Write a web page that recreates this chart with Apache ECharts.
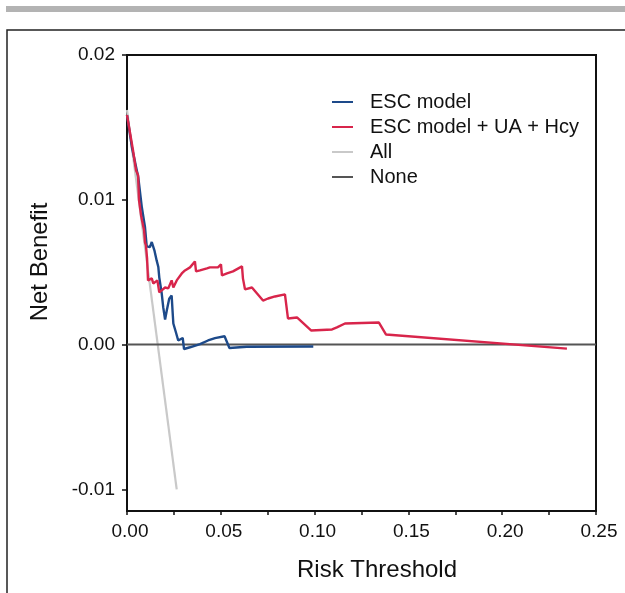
<!DOCTYPE html>
<html>
<head>
<meta charset="utf-8">
<script src="https://cdn.jsdelivr.net/npm/echarts@6/dist/echarts.min.js"></script>
<style>html,body{margin:0;padding:0;background:#fff}#c{width:625px;height:593px}</style>
</head>
<body>
<div id="c"></div>
<script>
const seriesNames = ['ESC model', 'ESC model + UA + Hcy', 'All', 'None'];
const xTicks = [0, 0.05, 0.10, 0.15, 0.20, 0.25];
const yTicks = [-0.01, 0, 0.01, 0.02];

const escModel = [
  [0,0.01585],[0.0027,0.01356],[0.0043,0.01260],[0.0060,0.01156],[0.0079,0.00948],
  [0.0096,0.00810],[0.0105,0.00678],[0.0122,0.00673],[0.0132,0.00708],[0.0140,0.00720],
  [0.0146,0.00651],[0.0155,0.00651],[0.0158,0.00581],[0.0167,0.00535],[0.0172,0.00464],
  [0.0185,0.00353],[0.0193,0.00258],[0.0203,0.00173],[0.0212,0.00235],[0.0225,0.00316],
  [0.0238,0.00339],[0.0243,0.00228],[0.0247,0.00145],[0.0261,0.00083],[0.0273,0.00028],
  [0.0283,0.00039],[0.0297,0.00045],[0.0304,-0.00031],[0.0336,-0.00019],[0.0389,0.00003],
  [0.0432,0.00028],[0.0469,0.00044],[0.0520,0.00057],[0.0546,-0.00024],[0.0638,-0.00015],
  [0.0993,-0.00014]
];
const escUaHcy = [
  [0,0.01585],[0.0032,0.01343],[0.0048,0.01204],[0.0059,0.01170],[0.0064,0.00997],
  [0.0075,0.00893],[0.0080,0.00858],[0.0091,0.00789],[0.0096,0.00706],[0.0101,0.00685],
  [0.0107,0.00595],[0.0112,0.00443],[0.0132,0.00457],[0.0140,0.00422],[0.0149,0.00429],
  [0.0162,0.00443],[0.0172,0.00360],[0.0185,0.00374],[0.0203,0.00394],[0.0220,0.00388],
  [0.0238,0.00443],[0.0247,0.00394],[0.0265,0.00443],[0.0292,0.00491],[0.0309,0.00512],
  [0.0336,0.00533],[0.0362,0.00574],[0.0368,0.00505],[0.0389,0.00512],[0.0426,0.00526],
  [0.0442,0.00533],[0.0485,0.00533],[0.0501,0.00554],[0.0506,0.00478],[0.0533,0.00491],
  [0.0565,0.00505],[0.0613,0.00540],[0.0618,0.00457],[0.0629,0.00381],[0.0666,0.00394],
  [0.0725,0.00304],[0.0752,0.00318],[0.0789,0.00332],[0.0842,0.00346],[0.0858,0.00180],
  [0.0906,0.00187],[0.0981,0.00097],[0.1093,0.00104],[0.1119,0.00118],[0.1162,0.00145],
  [0.1343,0.00152],[0.1381,0.00069],[0.2345,-0.00028]
];
const treatAll = [[0,0.0162],[0.0265,-0.0100]];
const treatNone = [[0,0],[0.25,0]];

const FONT = "'Liberation Sans', Arial, sans-serif";
const chart = echarts.init(document.getElementById('c'), null, {renderer:'canvas'});
const lineS = (name, data, color, z, w) => ({
  name, type:'line', data, showSymbol:false, symbol:'none', z,
  lineStyle:{color, width:w}, itemStyle:{color}, animation:false
});
chart.setOption({
  animation:false,
  backgroundColor:'#fff',
  grid:{left:127, right:29, top:55, bottom:82, show:true, borderColor:'#111', borderWidth:2, backgroundColor:'transparent'},
  xAxis:{
    type:'value', min:0, max:0.25, interval:0.05,
    axisLine:{show:true, onZero:false, lineStyle:{color:'#111', width:2}},
    axisTick:{show:true, length:4, lineStyle:{color:'#111', width:1.5}},
    minorTick:{show:true, splitNumber:2, length:4, lineStyle:{color:'#111', width:1.5}},
    splitLine:{show:false},
    axisLabel:{formatter:v=>v.toFixed(2), fontSize:19, color:'#111', fontFamily:FONT, margin:11, padding:[0,0,0,6], customValues:xTicks}
  },
  yAxis:{
    type:'value', min:-0.0115, max:0.02,
    axisLine:{show:true, onZero:false, lineStyle:{color:'#111', width:2}},
    axisTick:{show:true, length:5, lineStyle:{color:'#111', width:1.5}, customValues:yTicks},
    splitLine:{show:false},
    axisLabel:{formatter:v=>v.toFixed(2), fontSize:19, color:'#111', fontFamily:FONT, margin:12, customValues:yTicks}
  },
  legend:{
    orient:'vertical', left:332, top:92, padding:0, itemWidth:21, itemHeight:2, itemGap:5,
    icon:'rect',
    data:seriesNames,
    textStyle:{fontSize:20, color:'#111', fontFamily:FONT, lineHeight:18, padding:[0,0,0,12]}
  },
  graphic:[
    {type:'rect', shape:{x:6, y:6, width:625, height:6}, style:{fill:'#b3b3b3'}, silent:true},
    {type:'rect', shape:{x:7, y:30, width:700, height:700}, style:{fill:'none', stroke:'#222', lineWidth:1.5}, silent:true},
    {type:'text', x:377, y:570, style:{text:'Risk Threshold', fontSize:24, fill:'#111', fontFamily:FONT, align:'center', verticalAlign:'middle'}},
    {type:'text', x:40, y:262, rotation:Math.PI/2, style:{text:'Net Benefit', fontSize:24, fill:'#111', fontFamily:FONT, align:'center', verticalAlign:'middle'}}
  ],
  series:[
    lineS(seriesNames[0], escModel, '#1d4a8a', 5, 2.4),
    lineS(seriesNames[1], escUaHcy, '#d8254b', 6, 2.4),
    lineS(seriesNames[2], treatAll, '#c9c9c9', 3, 2.2),
    lineS(seriesNames[3], treatNone, '#555555', 4, 2)
  ]
});
</script>
</body>
</html>
